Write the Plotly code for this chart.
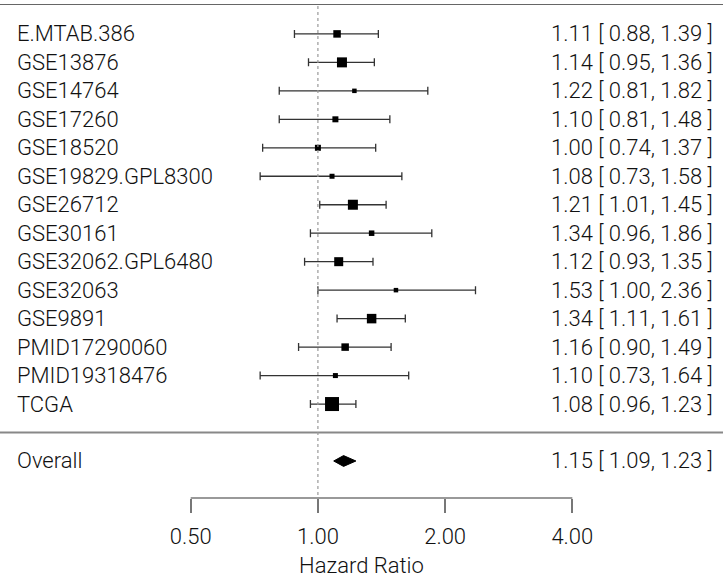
import plotly.graph_objects as go

studies = ["E.MTAB.386", "GSE13876", "GSE14764", "GSE17260", "GSE18520",
           "GSE19829.GPL8300", "GSE26712", "GSE30161", "GSE32062.GPL6480",
           "GSE32063", "GSE9891", "PMID17290060", "PMID19318476", "TCGA"]
hr = [1.11, 1.14, 1.22, 1.10, 1.00, 1.08, 1.21, 1.34, 1.12, 1.53, 1.34, 1.16, 1.10, 1.08]
ci_low = [0.88, 0.95, 0.81, 0.81, 0.74, 0.73, 1.01, 0.96, 0.93, 1.00, 1.11, 0.90, 0.73, 0.96]
ci_high = [1.39, 1.36, 1.82, 1.48, 1.37, 1.58, 1.45, 1.86, 1.35, 2.36, 1.61, 1.49, 1.64, 1.23]
overall_label = "Overall"
overall_hr, overall_low, overall_high = 1.15, 1.09, 1.23
tick_vals = [0.5, 1, 2, 4]
tick_text = ["0.50", "1.00", "2.00", "4.00"]
x_title = "Hazard Ratio"

# styling (square side length in px, reflecting study weight)
square_px = [7.5, 10, 4.5, 6, 6, 5, 10, 5.5, 9, 4.5, 9.5, 7.5, 5, 14]

FONT = "Roboto, Liberation Sans, Arial, sans-serif"
TXT = "#111111"
FS = 22
FW = 300

ys = [-(i + 1) for i in range(len(studies))]
y_over = -(len(studies) + 2)
y_sep = -(len(studies) + 1)

fig = go.Figure()

fig.add_trace(go.Scatter(
    x=hr, y=ys, mode="markers",
    marker=dict(symbol="square", size=square_px, color="black", opacity=1, line=dict(width=0)),
    error_x=dict(type="data", symmetric=False,
                 array=[h - m for h, m in zip(ci_high, hr)],
                 arrayminus=[m - l for m, l in zip(hr, ci_low)],
                 color="#333333", thickness=1.3, width=4),
    showlegend=False, hoverinfo="skip"))

dh = 0.19
fig.add_trace(go.Scatter(
    x=[overall_low, overall_hr, overall_high, overall_hr, overall_low],
    y=[y_over, y_over + dh, y_over, y_over - dh, y_over],
    mode="lines", fill="toself", fillcolor="black",
    line=dict(color="black", width=1), showlegend=False, hoverinfo="skip"))

shapes = [
    dict(type="line", xref="paper", yref="y", x0=0, x1=1, y0=0.05, y1=0.05,
         line=dict(color="#666666", width=1.8)),
    dict(type="line", xref="paper", yref="y", x0=0, x1=1, y0=y_sep, y1=y_sep,
         line=dict(color="#888888", width=1.8)),
    dict(type="line", xref="x", yref="y domain", x0=1, x1=1, y0=0.006, y1=1,
         line=dict(color="#999999", width=1.2, dash="dot")),
    dict(type="line", xref="x", yref="y domain", x0=tick_vals[0], x1=tick_vals[-1], y0=0, y1=0,
         line=dict(color="#777777", width=1.5)),
]

font = dict(family=FONT, size=FS, color=TXT, weight=FW)

ann = []
for name, y, h, l, u in zip(studies + [overall_label], ys + [y_over],
                             hr + [overall_hr], ci_low + [overall_low], ci_high + [overall_high]):
    ann.append(dict(x=15 / 723, xref="paper", y=y, yref="y", text=name, showarrow=False,
                    xanchor="left", yanchor="middle", font=font))
    ann.append(dict(x=715 / 723, xref="paper", y=y, yref="y",
                    text=f"{h:.2f} [ {l:.2f}, {u:.2f} ]", showarrow=False,
                    xanchor="right", yanchor="middle", font=font))

fig.update_layout(
    width=723, height=578,
    margin=dict(l=0, r=0, t=4, b=80),
    plot_bgcolor="white", paper_bgcolor="white",
    shapes=shapes, annotations=ann,
    xaxis=dict(type="log", range=[-0.7523, 0.9586], showgrid=False, zeroline=False,
               showline=False, tickmode="array", tickvals=tick_vals, ticktext=tick_text,
               ticks="outside", ticklen=14, tickwidth=1.5, tickcolor="#777777",
               ticklabelstandoff=5,
               tickfont=font,
               title=dict(text=x_title, font=font, standoff=10)),
    yaxis=dict(range=[-17.3, 0.05], showgrid=False, zeroline=False, showline=False,
               showticklabels=False, ticks=""),
)

fig.write_html("out.html", config={"displayModeBar": False},
               post_script="document.body.style.margin='0';")
